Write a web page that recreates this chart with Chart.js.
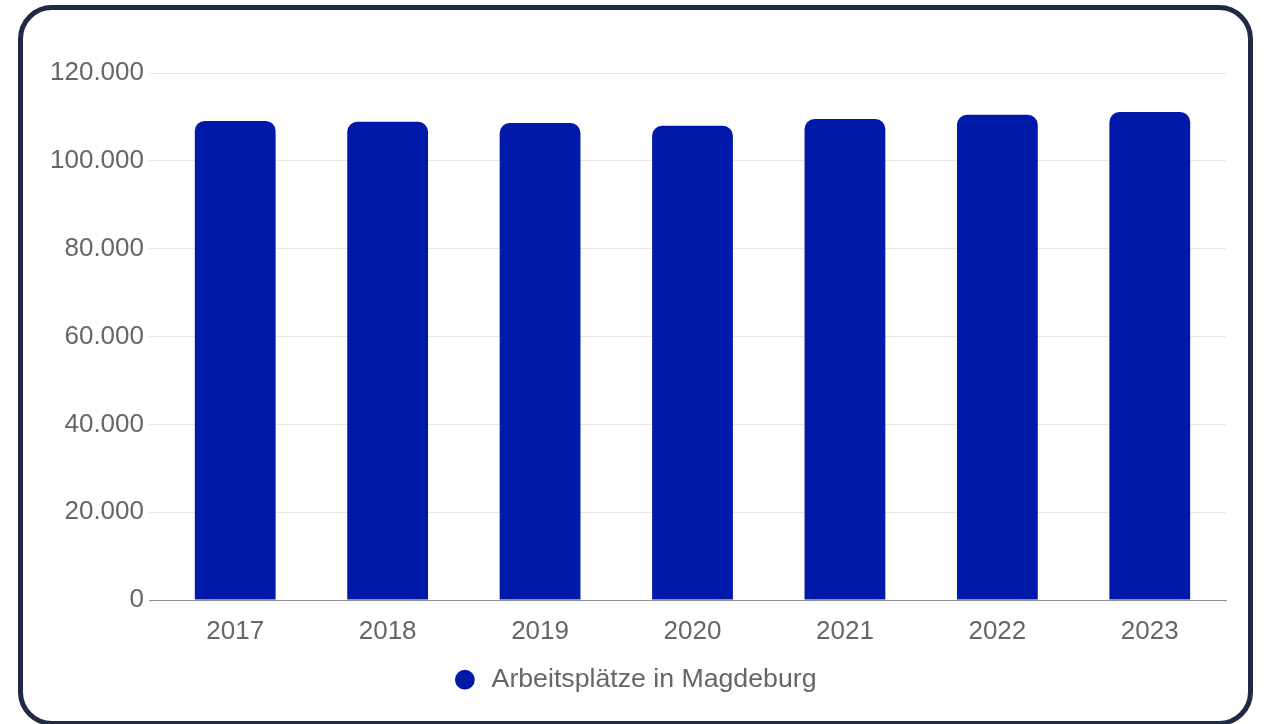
<!DOCTYPE html>
<html lang="de">
<head>
<meta charset="utf-8">
<title>Arbeitsplätze in Magdeburg</title>
<script src="https://cdn.jsdelivr.net/npm/chart.js@4/dist/chart.umd.min.js"></script>
<style>
    html, body { margin: 0; padding: 0; background: #ffffff; overflow: hidden; }
    #wrap { position: absolute; left: 0; top: 0; width: 1265px; height: 724px; }
    #frame {
        position: absolute; left: 18px; top: 5px; width: 1235px; height: 721px;
        box-sizing: border-box; border: 5px solid #1f2a44; border-radius: 34px;
        pointer-events: none;
    }
</style>
</head>
<body>
<div id="wrap">
    <canvas id="chart"></canvas>
</div>
<div id="frame"></div>
<script>
// Data
const years = ['2017', '2018', '2019', '2020', '2021', '2022', '2023'];
const jobs = [109100, 108900, 108600, 108000, 109500, 110500, 111100];
const yTicks = [0, 20000, 40000, 60000, 80000, 100000, 120000];
const seriesLabel = 'Arbeitsplätze in Magdeburg';

const barColor = '#0019a8';
const textColor = '#666666';

// German thousands separator
function formatDe(v) {
    return String(v).replace(/\B(?=(\d{3})+(?!\d))/g, '.');
}

Chart.defaults.font.family = '"Liberation Sans", Arial, sans-serif';
Chart.defaults.font.size = 26;
Chart.defaults.color = textColor;

const ctx = document.getElementById('chart').getContext('2d');
const chart = new Chart(ctx, {
    type: 'bar',
    data: {
        labels: years,
        datasets: [{
            label: seriesLabel,
            data: jobs,
            backgroundColor: barColor,
            borderRadius: 10,
            borderSkipped: 'bottom',
            categoryPercentage: 1,
            barPercentage: 0.53
        }]
    },
    options: {
        responsive: true,
        maintainAspectRatio: false,
        animation: false,
        layout: { padding: { top: 73, right: 39, bottom: 21, left: 42 } },
        plugins: {
            tooltip: { enabled: false },
            legend: {
                position: 'bottom',
                labels: {
                    usePointStyle: true,
                    pointStyle: 'circle',
                    boxWidth: 28,
                    boxHeight: 14,
                    padding: 3,
                    color: textColor,
                    font: { size: 26.7 }
                }
            }
        },
        scales: {
            x: {
                grid: { display: false, drawTicks: false },
                border: { display: true, color: '#8a8d96', width: 1 },
                ticks: { padding: 16 }
            },
            y: {
                min: yTicks[0],
                max: yTicks[yTicks.length - 1],
                afterFit: (scale) => { scale.width = 117; },
                afterBuildTicks: (scale) => { scale.ticks = yTicks.map(v => ({ value: v })); },
                border: { display: false },
                grid: {
                    color: (c) => (c.tick && c.tick.value === 0) ? '#8a8d96' : '#e6e6e6',
                    tickLength: 10
                },
                ticks: {
                    padding: 5,
                    callback: (v) => formatDe(v)
                }
            }
        }
    }
});
</script>
</body>
</html>
